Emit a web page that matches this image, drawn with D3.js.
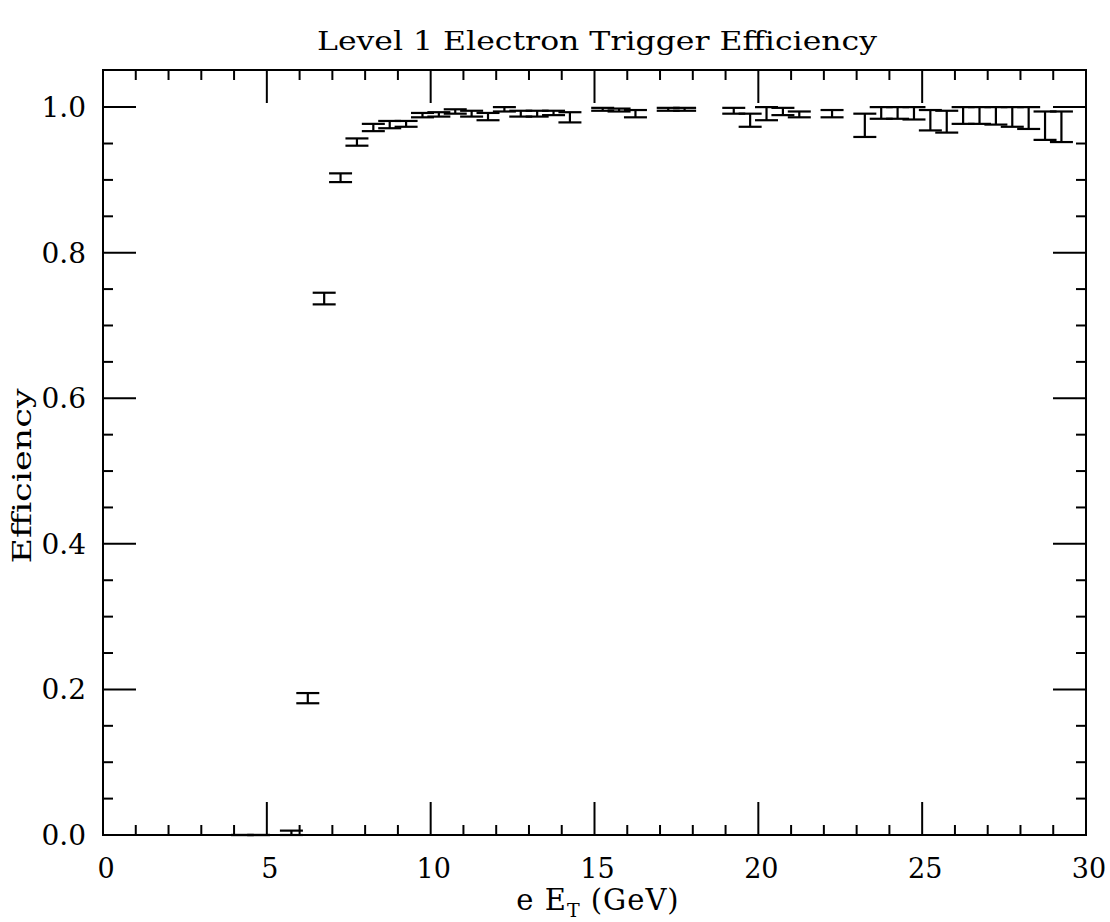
<!DOCTYPE html>
<html><head><meta charset="utf-8">
<script src="https://cdn.jsdelivr.net/npm/d3@7"></script>
<style>html,body{margin:0;padding:0;background:#fff;}</style>
</head><body>
<svg id="chart" width="1110" height="922"></svg>
<script>
// ---- data ----
const binCenters = [4.25, 4.75, 5.75, 6.25, 6.75, 7.25, 7.75, 8.25, 8.75, 9.25, 9.75, 10.25, 10.75, 11.25, 11.75,
  12.25, 12.75, 13.25, 13.75, 14.25, 15.25, 15.75, 16.25, 17.25, 17.75, 19.25, 19.75, 20.25, 20.75, 21.25,
  22.25, 23.25, 23.75, 24.25, 24.75, 25.25, 25.75, 26.25, 26.75, 27.25, 27.75, 28.25, 28.75, 29.25];
const efficiency = [0.0, 0.0, 0.003, 0.188, 0.737, 0.903, 0.952, 0.972, 0.976, 0.977, 0.989, 0.990, 0.994, 0.991, 0.987,
  0.997, 0.991, 0.991, 0.992, 0.986, 0.997, 0.996, 0.991, 0.997, 0.997, 0.995, 0.982, 0.990, 0.994, 0.990,
  0.991, 0.975, 0.992, 0.992, 0.990, 0.982, 0.980, 0.988, 0.988, 0.987, 0.986, 0.985, 0.974, 0.973];
const errLow = [0.0, 0.0, 0.003, 0.007, 0.008, 0.006, 0.005, 0.005, 0.005, 0.004, 0.003, 0.003, 0.003, 0.004, 0.005,
  0.003, 0.004, 0.004, 0.003, 0.007, 0.002, 0.002, 0.005, 0.002, 0.002, 0.004, 0.009, 0.008, 0.005, 0.004,
  0.005, 0.016, 0.008, 0.008, 0.007, 0.014, 0.015, 0.011, 0.011, 0.011, 0.013, 0.015, 0.019, 0.021];
const errHigh = [0.0, 0.0, 0.003, 0.007, 0.008, 0.006, 0.005, 0.005, 0.005, 0.004, 0.003, 0.003, 0.003, 0.004, 0.005,
  0.003, 0.004, 0.004, 0.003, 0.007, 0.002, 0.002, 0.005, 0.002, 0.002, 0.004, 0.009, 0.010, 0.005, 0.004,
  0.005, 0.016, 0.008, 0.008, 0.010, 0.014, 0.015, 0.012, 0.012, 0.013, 0.014, 0.015, 0.020, 0.021];
const xMajorTicks = [0, 5, 10, 15, 20, 25, 30];
const yMajorTicks = [0.0, 0.2, 0.4, 0.6, 0.8, 1.0];
const titleText = "Level 1 Electron Trigger Efficiency";
const yLabelText = "Efficiency";

// ---- layout ----
const svg = d3.select("#chart");
const L = 103, R = 1086, T = 70, B = 835;
const x = d3.scaleLinear().domain([0, 30]).range([L, R]);
const y = d3.scaleLinear().domain([0, 1.051]).range([B, T]);
const serif = "'DejaVu Serif', 'Liberation Serif', serif";

// frame
svg.append("rect").attr("x", L).attr("y", T).attr("width", R - L).attr("height", B - T)
  .attr("fill", "none").attr("stroke", "#000").attr("stroke-width", 2);

// ticks (inward, all four sides)
const majLen = 33, minLen = 10;
const xMinor = d3.range(0, 31, 1);
const yMinor = d3.range(0, 21).map(i => i * 0.05);
const tg = svg.append("g").attr("stroke", "#000").attr("stroke-width", 2);
xMinor.forEach(v => {
  const len = (v % 5 === 0) ? majLen : minLen;
  if (v === 0 || v === 30) return;
  tg.append("line").attr("x1", x(v)).attr("x2", x(v)).attr("y1", B).attr("y2", B - len);
  tg.append("line").attr("x1", x(v)).attr("x2", x(v)).attr("y1", T).attr("y2", T + len);
});
yMinor.forEach((v, i) => {
  const len = (i % 4 === 0) ? majLen : minLen;
  if (i === 0) return;
  tg.append("line").attr("x1", L).attr("x2", L + len).attr("y1", y(v)).attr("y2", y(v));
  tg.append("line").attr("x1", R).attr("x2", R - len).attr("y1", y(v)).attr("y2", y(v));
});

// tick labels
svg.append("g").selectAll("text").data(xMajorTicks).join("text")
  .attr("x", d => x(d) + 3).attr("y", 878).attr("text-anchor", "middle")
  .attr("font-family", serif).attr("font-size", 27).text(d => d);
svg.append("g").selectAll("text").data(yMajorTicks).join("text")
  .attr("x", 86).attr("y", d => y(d) + 10).attr("text-anchor", "end")
  .attr("font-family", serif).attr("font-size", 28).text(d => d.toFixed(1));

// title
svg.append("text").attr("x", 597).attr("y", 50).attr("text-anchor", "middle")
  .attr("font-family", serif).attr("font-size", 26)
  .attr("textLength", 560).attr("lengthAdjust", "spacingAndGlyphs").text(titleText);

// x axis label: e E_T (GeV)
const xl = svg.append("text").attr("x", 598).attr("y", 910).attr("text-anchor", "middle")
  .attr("font-family", serif).attr("font-size", 29).attr("letter-spacing", 1);
xl.append("tspan").text("e E");
xl.append("tspan").attr("dy", 7).attr("font-size", 19).text("T");
xl.append("tspan").attr("dy", -7).text(" (GeV)");

// y axis label
svg.append("text").attr("transform", "translate(31,476) rotate(-90)").attr("text-anchor", "middle")
  .attr("font-family", serif).attr("font-size", 26)
  .attr("textLength", 175).attr("lengthAdjust", "spacingAndGlyphs").text(yLabelText);

// error bars
const capHalf = 11.5;
const pts = binCenters.map((c, i) => ({c, v: efficiency[i], lo: efficiency[i] - errLow[i], hi: Math.min(1, efficiency[i] + errHigh[i])}));
const eg = svg.append("g").attr("stroke", "#000").attr("stroke-width", 2.2).attr("fill", "none");
pts.forEach(p => {
  const cx = x(p.c);
  eg.append("line").attr("x1", cx).attr("x2", cx).attr("y1", y(p.lo)).attr("y2", y(p.hi));
  eg.append("line").attr("x1", cx - capHalf).attr("x2", cx + capHalf).attr("y1", y(p.lo)).attr("y2", y(p.lo));
  eg.append("line").attr("x1", cx - capHalf).attr("x2", cx + capHalf).attr("y1", y(p.hi)).attr("y2", y(p.hi));
});
</script>
</body></html>
